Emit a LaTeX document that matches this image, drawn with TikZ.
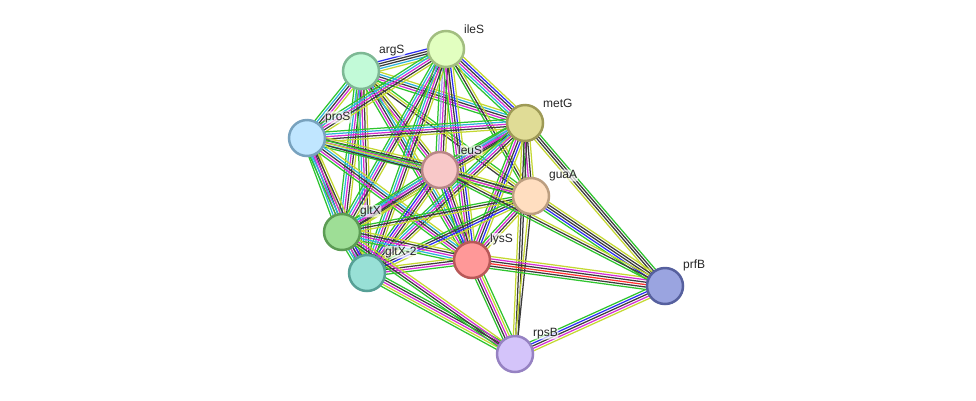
\documentclass[tikz,border=0pt]{standalone}
\usepackage{fontspec}
\setmainfont{Liberation Sans}
\usetikzlibrary{calc, backgrounds}

% evidence channel colours
\definecolor{sg}{HTML}{2EC42E}
\definecolor{sr}{HTML}{FF3030}
\definecolor{sb}{HTML}{2E2EF5}
\definecolor{sk}{HTML}{3C3C3C}
\definecolor{sm}{HTML}{D42ED4}
\definecolor{sc}{HTML}{2EB4DC}
\definecolor{sy}{HTML}{C4D832}
\definecolor{sl}{HTML}{A0A0F0}

% protein colours (fill / border)
\definecolor{argSf}{HTML}{C2FAD8}\definecolor{argSd}{HTML}{7DB894}
\definecolor{ileSf}{HTML}{E2FFC0}\definecolor{ileSd}{HTML}{A2BE80}
\definecolor{metGf}{HTML}{E0DC96}\definecolor{metGd}{HTML}{9E9A56}
\definecolor{proSf}{HTML}{C0E6FF}\definecolor{proSd}{HTML}{78A2BE}
\definecolor{leuSf}{HTML}{F8C8C8}\definecolor{leuSd}{HTML}{B88686}
\definecolor{guaAf}{HTML}{FFDEC0}\definecolor{guaAd}{HTML}{BC9E80}
\definecolor{gltXf}{HTML}{9EDE96}\definecolor{gltXd}{HTML}{5C9C54}
\definecolor{gltXbf}{HTML}{98E0D6}\definecolor{gltXbd}{HTML}{56A096}
\definecolor{lysSf}{HTML}{FF9898}\definecolor{lysSd}{HTML}{B85858}
\definecolor{prfBf}{HTML}{9AA4E0}\definecolor{prfBd}{HTML}{56609E}
\definecolor{rpsBf}{HTML}{D4C4FA}\definecolor{rpsBd}{HTML}{9682C2}

\def\linesep{2.4}
% \edge{a}{b}{colour list}: parallel lines between two nodes
\newcommand{\edge}[3]{%
  \def\ncol{0}%
  \foreach \c in {#3}{\pgfmathparse{int(\ncol+1)}\xdef\ncol{\pgfmathresult}}%
  \foreach \c [count=\i] in {#3}{%
    \pgfmathsetmacro{\off}{(\i-(\ncol+1)/2)*\linesep}%
    \draw[link, \c] ($(#1)!\off pt!90:(#2)$) -- ($(#2)!\off pt!-90:(#1)$);
  }%
}

\begin{document}
\begin{tikzpicture}[
  x=1pt, y=-1pt,
  prot/.style={circle, minimum size=36pt, inner sep=0pt, line width=2.5pt,
    fill=#1f, draw=#1d},
  lab/.style={font=\fontsize{12}{13}\selectfont, inner sep=0.6pt, text=black!85,
    fill=white, fill opacity=0.7, text opacity=1, rounded corners=2pt,
    label distance=1pt, xshift=3pt},
  link/.style={line width=1.25pt}
]
\useasboundingbox (0,0) rectangle (976,400);

% ---- PROTEINS ----
\node[prot=argS, label={[lab]45:argS}] (argS) at (361,71) {};
\node[prot=ileS, label={[lab]45:ileS}] (ileS) at (446,49) {};
\node[prot=metG, label={[lab]45:metG}] (metG) at (525,123) {};
\node[prot=proS, label={[lab]45:proS}] (proS) at (307,138) {};
\node[prot=leuS, label={[lab]45:leuS}] (leuS) at (440,170) {};
\node[prot=guaA, label={[lab]45:guaA}] (guaA) at (531,196) {};
\node[prot=gltX, label={[lab]45:gltX}] (gltX) at (342,232) {};
\node[prot=gltXb, label={[lab]45:gltX-2}] (gltXb) at (367,273) {};
\node[prot=lysS, label={[lab]45:lysS}] (lysS) at (472,260) {};
\node[prot=prfB, label={[lab]45:prfB}] (prfB) at (665,286) {};
\node[prot=rpsB, label={[lab]45:rpsB}] (rpsB) at (515,354) {};

% ---- INTERACTIONS ----
\begin{scope}[on background layer]
  \edge{argS}{ileS}{sy,sc,sk,sk,sb}
  \edge{argS}{metG}{sg,sm,sk,sc,sy}
  \edge{argS}{proS}{sg,sc,sk,sm,sy}
  \edge{argS}{leuS}{sg,sm,sk,sy}
  \edge{argS}{guaA}{sk,sy,sg}
  \edge{argS}{gltX}{sg,sc,sm,sk,sy}
  \edge{argS}{gltXb}{sg,sc,sm,sk,sy}
  \edge{argS}{lysS}{sg,sm,sk,sc,sy}
  \edge{ileS}{metG}{sg,sc,sm,sk,sb,sy}
  \edge{ileS}{proS}{sg,sc,sm,sk,sy}
  \edge{ileS}{leuS}{sg,sl,sm,sk,sy}
  \edge{ileS}{guaA}{sg,sk,sy}
  \edge{ileS}{gltX}{sg,sc,sm,sk,sy}
  \edge{ileS}{gltXb}{sg,sc,sm,sk,sy}
  \edge{ileS}{lysS}{sg,sm,sk,sb,sy}
  \edge{metG}{proS}{sg,sc,sm,sk,sy}
  \edge{metG}{leuS}{sg,sl,sm,sk,sy}
  \edge{metG}{guaA}{sg,sm,sk,sy}
  \edge{metG}{gltX}{sg,sc,sm,sk,sy}
  \edge{metG}{gltXb}{sg,sc,sm,sk,sy}
  \edge{metG}{lysS}{sg,sm,sk,sb,sy}
  \edge{proS}{leuS}{sg,sc,sm,sk,sy}
  \edge{proS}{guaA}{sk,sy,sg}
  \edge{proS}{gltX}{sg,sc,sm,sk,sy}
  \edge{proS}{gltXb}{sg,sc,sm,sk,sy}
  \edge{proS}{lysS}{sg,sm,sk,sc,sy}
  \edge{leuS}{guaA}{sg,sm,sk,sy}
  \edge{leuS}{gltX}{sg,sc,sm,sk,sy}
  \edge{leuS}{gltXb}{sg,sb,sm,sk,sy}
  \edge{leuS}{lysS}{sg,sb,sm,sk,sy}
  \edge{guaA}{gltX}{sg,sk,sy}
  \edge{guaA}{gltXb}{sg,sk,sb,sy}
  \edge{guaA}{lysS}{sg,sm,sk,sy}
  \edge{gltX}{gltXb}{sg,sc,sm,sk,sb,sy}
  \edge{gltX}{lysS}{sg,sc,sm,sk,sy}
  \edge{gltXb}{lysS}{sg,sm,sk,sy}
  % rpsB
  \edge{rpsB}{lysS}{sg,sy,sm,sk,sg}
  \edge{rpsB}{gltXb}{sg,sk,sm,sy,sg}
  \edge{rpsB}{gltX}{sy,sm,sk,sg}
  \edge{rpsB}{metG}{sk,sk,sy}
  \edge{rpsB}{guaA}{sk,sy}
  \edge{rpsB}{prfB}{sy,sm,sk,sb,sg}
  % prfB
  \edge{prfB}{metG}{sg,sk,sk,sy}
  \edge{prfB}{guaA}{sy,sk,sk,sb,sg}
  \edge{prfB}{lysS}{sy,sm,sk,sr,sk,sg}
  \edge{prfB}{leuS}{sy,sk,sg}
\end{scope}
\end{tikzpicture}
\end{document}
